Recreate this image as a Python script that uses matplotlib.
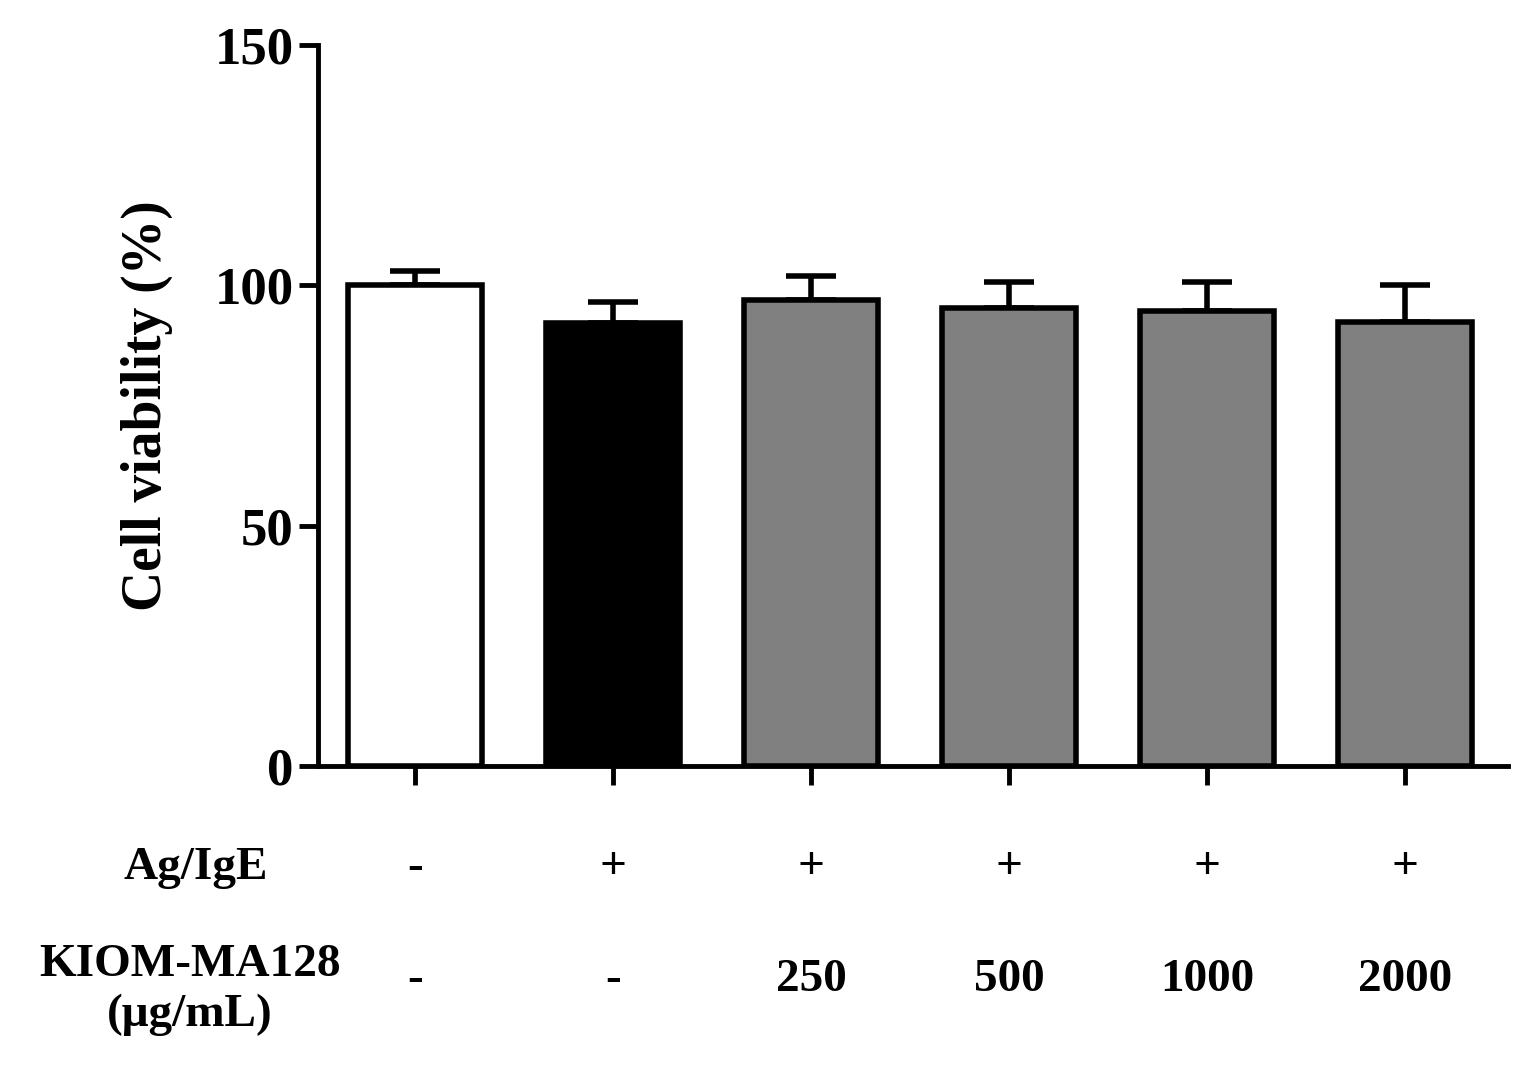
import matplotlib
matplotlib.use("Agg")
import matplotlib.pyplot as plt

plt.rcParams["font.family"] = "Liberation Serif"
plt.rcParams["font.weight"] = "bold"

viability = [100, 92.2, 96.9, 95.3, 94.7, 92.4]
sem = [3.0, 4.3, 5.1, 5.4, 6.0, 7.6]
colors = ["white", "black", "#808080", "#808080", "#808080", "#808080"]
ag_ige = ["-", "+", "+", "+", "+", "+"]
kiom = ["-", "-", "250", "500", "1000", "2000"]

fig = plt.figure(figsize=(15.28, 10.74), dpi=100)
ax = fig.add_axes([0.208, 0.287, 0.779, 0.671])
x = list(range(len(viability)))
ax.bar(x, viability, width=0.68, color=colors, edgecolor="black", linewidth=4, zorder=2)
ax.errorbar(x, viability, yerr=[[0] * len(sem), sem], fmt="none", ecolor="black",
            elinewidth=4, capsize=18, capthick=4, zorder=1)

ax.set_xlim(-0.49, 5.52)
ax.set_ylim(0, 150)
ax.set_yticks([0, 50, 100, 150])
ax.set_xticks(x)
ax.set_xticklabels([])
ax.tick_params(axis="y", labelsize=38, width=3.5, length=14)
ax.tick_params(axis="x", width=3.5, length=14)
for side in ["top", "right"]:
    ax.spines[side].set_visible(False)
for side in ["left", "bottom"]:
    ax.spines[side].set_linewidth(3.5)
ax.set_ylabel("Cell viability (%)", fontsize=40, fontweight="bold", labelpad=30)

def fx(i):
    return (415 + 198 * i) / 1528

for i in x:
    fig.text(fx(i), 1 - 868 / 1074, ag_ige[i], ha="center", va="center", fontsize=34, fontweight="bold")
    fig.text(fx(i), 1 - 980 / 1074, kiom[i], ha="center", va="center", fontsize=34, fontweight="bold")
fig.text(268 / 1528, 1 - 868 / 1074, "Ag/IgE", ha="right", va="center", fontsize=34, fontweight="bold")
fig.text(190 / 1528, 1 - 990 / 1074, "KIOM-MA128\n(μg/mL)", ha="center", va="center",
         fontsize=34, fontweight="bold", linespacing=1.25)

fig.savefig("out.png", dpi=100)
